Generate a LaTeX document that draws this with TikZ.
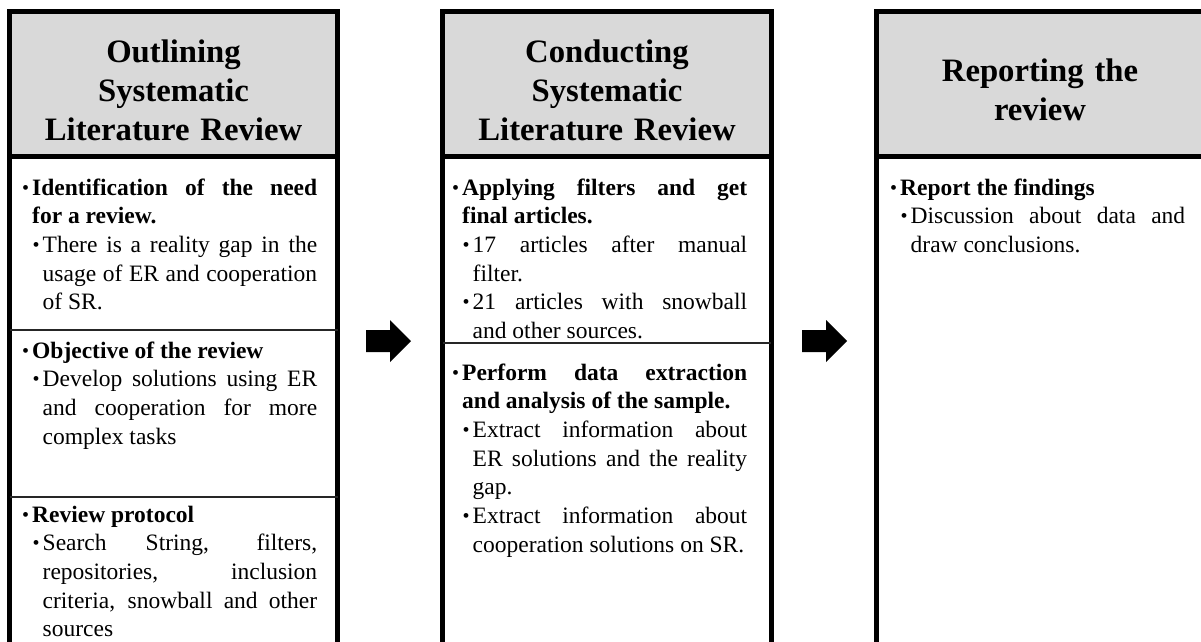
\documentclass[tikz,border=0pt]{standalone}
\usepackage{fontspec}
\setmainfont{Liberation Serif}

\definecolor{headgray}{HTML}{D9D9D9}

% line breaking: loose justified lines, no hyphenation
\tolerance=10000
\hyphenpenalty=10000
\exhyphenpenalty=10000

% round bullet and the two list levels (paragraphs are separated with \par)
\newcommand\bul{\raisebox{1pt}{\fontsize{20}{20}\selectfont\textbullet}}
\newcommand\itemA[1]{\leftskip=0pt\noindent\llap{\bul\hspace{3pt}}\textbf{#1}}
\newcommand\itemB[1]{\leftskip=10.5pt\noindent\llap{\bul\hspace{3pt}}#1}

\tikzset{
  colframe/.style={line width=5pt},
  headline/.style={line width=5pt},
  sepline/.style={line width=2pt, draw=black!85},
  headtext/.style={anchor=base, inner sep=0pt, text width=320pt, align=center,
    font=\fontsize{32.7}{39}\selectfont\bfseries},
  bodytext/.style={anchor=base west, inner sep=0pt, text width=285pt, align=justify,
    font=\fontsize{23.5}{28.7}\selectfont},
  blockarrow/.style={fill=black},
}

\begin{document}
\begin{tikzpicture}[x=1pt, y=-1pt]
\useasboundingbox (0,0) rectangle (1201,641);
\clip (0,0) rectangle (1201,641);

% ---- column frames with grey headers ----
\foreach \l/\r in {9.5/337.5, 442.5/771, 876.5/1204}{
  \fill[headgray] (\l,11.5) rectangle (\r,156.5);
  \draw[colframe] (\l,11.5) rectangle (\r,720);
  \draw[headline] (\l,156.5) -- (\r,156.5);
}

% separators between sections
\draw[sepline] (9.5,330) -- (337.5,330);
\draw[sepline] (9.5,496.5) -- (337.5,496.5);
\draw[sepline] (442.5,343) -- (771,343);

% ---- headers ----
\node[headtext] (h1) at (173.5,62) {Outlining\\Systematic\\Literature Review};
\node[headtext] (h2) at (607,62) {Conducting\\Systematic\\Literature Review};
\node[headtext] (h3) at (1040,81) {Reporting the\\review};

% ---- column 1 ----
\node[bodytext] (c1a) at (32,195) {%
  \itemA{Identification of the need \linebreak for a review.}\par
  \itemB{There is a reality gap in the \linebreak usage of ER and cooperation \linebreak of SR.}\par};
\node[bodytext] (c1b) at (32,358) {%
  \itemA{Objective of the review}\par
  \itemB{Develop solutions using ER \linebreak and cooperation for more \linebreak complex tasks}\par};
\node[bodytext] (c1c) at (32,522) {%
  \itemA{Review protocol}\par
  \itemB{Search String, filters, \linebreak repositories, inclusion \linebreak criteria, snowball and other \linebreak sources}\par};

% ---- column 2 ----
\node[bodytext] (c2a) at (462,195) {%
  \itemA{Applying filters and get \linebreak final articles.}\par
  \itemB{17 articles after manual \linebreak filter.}\par
  \itemB{21 articles with snowball \linebreak and other sources.}\par};
\node[bodytext] (c2b) at (462,380) {%
  \itemA{Perform data extraction \linebreak and analysis of the sample.}\par
  \itemB{Extract information about \linebreak ER solutions and the reality \linebreak gap.}\par
  \itemB{Extract information about \linebreak cooperation solutions on SR.}\par};

% ---- column 3 ----
\node[bodytext] (c3a) at (900,195) {%
  \itemA{Report the findings}\par
  \itemB{Discussion about data and \linebreak draw conclusions.}\par};

% ---- block arrows between the columns ----
\coordinate (arr1) at (366,341);
\coordinate (arr2) at (802,341);
\foreach \a in {arr1, arr2}{
  \fill[blockarrow, shift={(\a)}] (0,-11) -- (24,-11) -- (24,-21) -- (45,0)
    -- (24,21) -- (24,11) -- (0,11) -- cycle;
}
\end{tikzpicture}
\end{document}
